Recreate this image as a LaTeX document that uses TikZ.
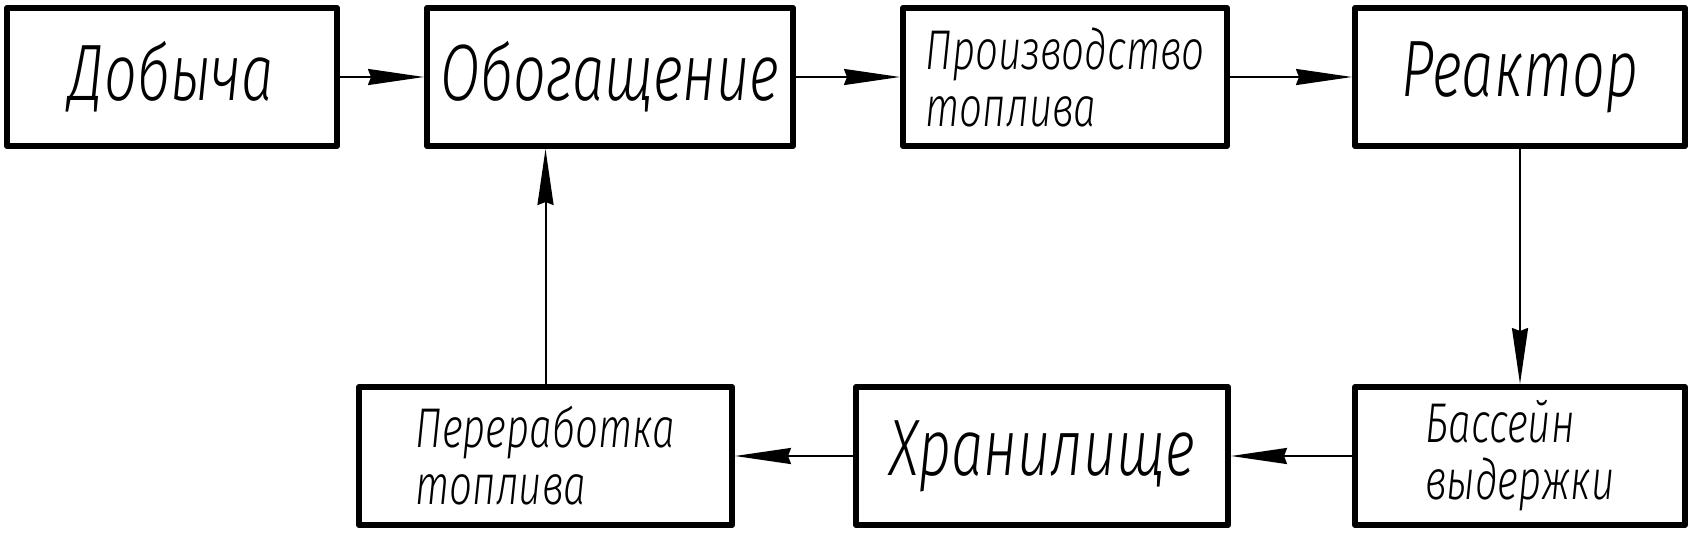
\documentclass[tikz,border=0pt]{standalone}
\usepackage{fontspec}
\newfontfamily\gost{Fira Sans Light Italic}[FakeStretch=0.72]
\usetikzlibrary{arrows.meta}
\tikzset{
  blk/.style={draw, line width=3pt, line join=round, inner sep=0pt, outer sep=1.5pt,
    minimum height=69pt, align=left, font=\gost},
  big/.style={font=\gost\fontsize{40}{44}\selectfont},
  small/.style={font=\gost\fontsize{28}{28.5}\selectfont},
  conn/.style={line width=1pt, -{Stealth[length=28pt, width=8pt, inset=1.5pt]}}
}
\begin{document}
\begin{tikzpicture}[x=0.5pt,y=-0.5pt]
\useasboundingbox (0,0) rectangle (1697,541);
\node[blk, big, minimum width=165pt] (dob) at (172,77) {Добыча};
\node[blk, big, minimum width=183pt] (obo) at (610,77) {Обогащение};
\node[blk, small, minimum width=162pt] (pro) at (1065,77) {Производство\\топлива};
\node[blk, big, minimum width=165pt] (rea) at (1520,77) {Реактор};
\node[blk, small, minimum width=186.5pt] (per) at (545.5,456) {Переработка\\топлива};
\node[blk, big, minimum width=186pt] (hra) at (1042,456) {Хранилище};
\node[blk, small, minimum width=165pt] (bas) at (1520,456) {Бассейн\\выдержки};
\draw[conn] (dob) -- (obo);
\draw[conn] (obo) -- (pro);
\draw[conn] (pro) -- (rea);
\draw[conn] (rea) -- (bas);
\draw[conn] (bas) -- (hra);
\draw[conn] (hra) -- (per);
\draw[conn] (per.north) -- (per.north |- obo.south);
\end{tikzpicture}
\end{document}
